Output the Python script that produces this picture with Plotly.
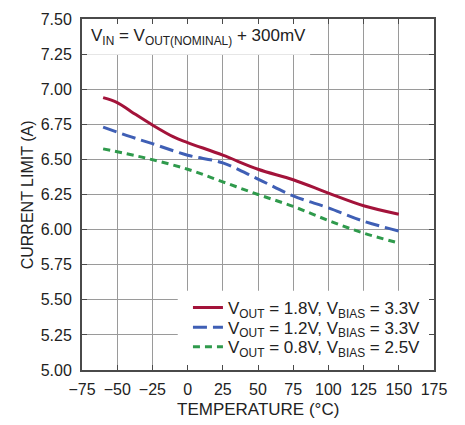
import plotly.graph_objects as go

# ── Data ──────────────────────────────────────────────────────────────────────
temp_18 = [-60, -50, -40, -25, -10, 0, 25, 50, 75, 100, 125, 150]
ilim_18 = [6.94, 6.905, 6.84, 6.745, 6.66, 6.62, 6.53, 6.43, 6.355, 6.26, 6.17, 6.11]

temp_12 = [-60, -40, -25, 0, 25, 50, 75, 100, 125, 150]
ilim_12 = [6.73, 6.66, 6.612, 6.53, 6.475, 6.36, 6.24, 6.155, 6.06, 5.99]

temp_08 = [-60, -30, 0, 25, 50, 75, 100, 125, 150]
ilim_08 = [6.575, 6.51, 6.43, 6.34, 6.25, 6.165, 6.065, 5.975, 5.905]

x_ticks = [-75, -50, -25, 0, 25, 50, 75, 100, 125, 150, 175]
y_ticks = [5.00, 5.25, 5.50, 5.75, 6.00, 6.25, 6.50, 6.75, 7.00, 7.25, 7.50]

FONT = "Liberation Sans, Arial, sans-serif"
FRAME = "#4a4a4a"
GRID = "#9a9a9a"
INK = "#222"

fig = go.Figure()

# one legend per trace so the rows can sit as tight as in the original
fig.add_trace(go.Scatter(
    x=temp_18, y=ilim_18, mode="lines", line_shape="spline",
    name="V<sub>OUT</sub> = 1.8V, V<sub>BIAS</sub> = 3.3V",
    line=dict(color="#a3133a", width=3), legend="legend",
))
fig.add_trace(go.Scatter(
    x=temp_12, y=ilim_12, mode="lines", line_shape="spline",
    name="V<sub>OUT</sub> = 1.2V, V<sub>BIAS</sub> = 3.3V",
    line=dict(color="#3f5fb5", width=3, dash="14px,6px"), legend="legend2",
))
fig.add_trace(go.Scatter(
    x=temp_08, y=ilim_08, mode="lines", line_shape="spline",
    name="V<sub>OUT</sub> = 0.8V, V<sub>BIAS</sub> = 2.5V",
    line=dict(color="#2f9a4c", width=3, dash="7px,5px"), legend="legend3",
))

# white boxes hiding the grid behind the note and the legend
fig.add_shape(type="rect", x0=-75, x1=87, y0=7.245, y1=7.5, layer="between",
              fillcolor="white", line_width=0)
fig.add_shape(type="rect", x0=-7, x1=175, y0=5.0, y1=5.565, layer="between",
              fillcolor="white", line_width=0)

fig.add_annotation(
    text="V<sub>IN</sub> = V<sub>OUT(NOMINAL)</sub> + 300mV",
    xref="paper", yref="paper", x=0.019, y=0.948, xanchor="left", yanchor="middle",
    showarrow=False, font=dict(size=17, color=INK),
)
# axis titles
fig.add_annotation(
    text="TEMPERATURE (°C)", xref="paper", yref="paper", x=0.5, y=-0.113,
    xanchor="center", yanchor="middle", showarrow=False,
    font=dict(size=17, color=INK),
)
fig.add_annotation(
    text="CURRENT LIMIT (A)", xref="paper", yref="paper", x=-0.154, y=0.5,
    xanchor="center", yanchor="middle", showarrow=False, textangle=-90,
    font=dict(size=16, color=INK),
)

axis_common = dict(
    showgrid=True, gridcolor=GRID, gridwidth=1,
    showline=True, linecolor=FRAME, linewidth=2, mirror="ticks",
    ticks="inside", ticklen=5, tickcolor=FRAME, tickwidth=1,
    zeroline=False, tickfont=dict(size=16, color=INK), automargin=False,
)

fig.update_xaxes(range=[-75, 175], tickvals=x_ticks, ticklabelstandoff=4,
                 **axis_common)
fig.update_yaxes(range=[5.0, 7.5], tickvals=y_ticks, tickformat=".2f",
                 ticklabelstandoff=5, **axis_common)

leg = dict(x=0.301, xanchor="left", yanchor="top", bgcolor="rgba(0,0,0,0)",
           borderwidth=0, font=dict(size=17, color=INK))

# the page body has an 8px margin, so the figure is 8px smaller than the window
fig.update_layout(
    width=457, height=417,
    margin=dict(l=74, r=31, t=11, b=55),
    paper_bgcolor="white", plot_bgcolor="white",
    font=dict(family=FONT, color=INK),
    showlegend=True,
    legend=dict(y=0.228, **leg),
    legend2=dict(y=0.172, **leg),
    legend3=dict(y=0.116, **leg),
)

fig.write_html("out.html")
